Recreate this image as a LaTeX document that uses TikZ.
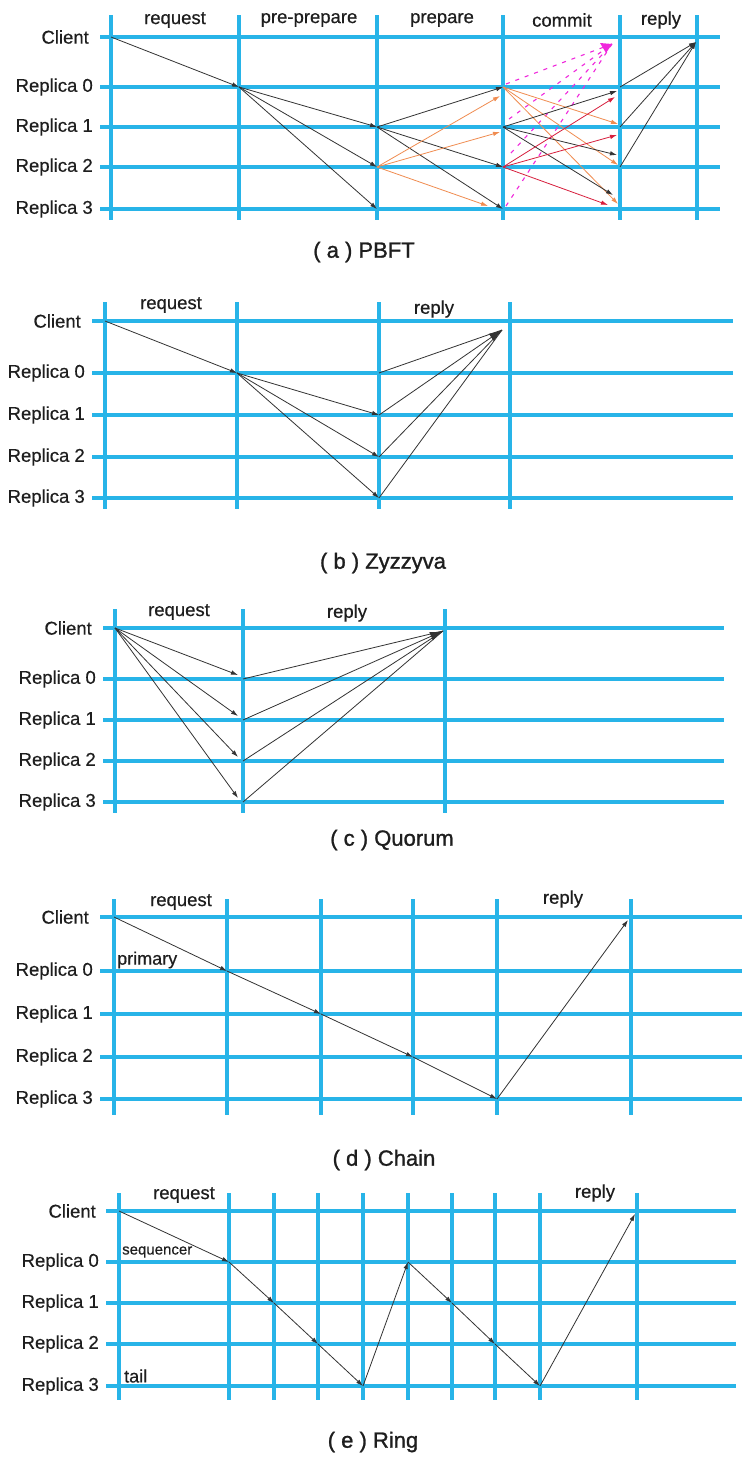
\documentclass[tikz,border=0pt]{standalone}
\usepackage{fontspec}
\setmainfont{Liberation Sans}
\newfontfamily\lblfont{Liberation Sans}[FakeBold=0.5]
\newfontfamily\capfont{Liberation Sans}[FakeBold=1.2]
\usetikzlibrary{arrows.meta,calc}
\definecolor{gridc}{RGB}{40,180,232}
\definecolor{txt}{RGB}{30,30,30}
\definecolor{orng}{RGB}{240,140,80}
\definecolor{redc}{RGB}{215,30,60}
\definecolor{mag}{RGB}{240,40,220}
\tikzset{
  gridline/.style={draw=gridc,line width=4pt},
  msg/.style={draw=black!80,line width=0.8pt,-{Latex[length=7pt,width=4.5pt]}},
  omsg/.style={msg,draw=orng,-{Latex[length=7pt,width=4.5pt,color=orng]}},
  rmsg/.style={msg,draw=redc,-{Latex[length=7pt,width=4.5pt,color=redc]}},
  dmsg/.style={draw=mag,line width=1.1pt,dash pattern=on 4pt off 6pt},
  plain/.style={draw=black!80,line width=0.8pt},
  bigtip/.style={plain,-{Latex[length=13pt,width=9pt]}},
  rowlab/.style={anchor=east,inner sep=0pt,text=txt,font=\lblfont\fontsize{18.5}{20}\selectfont},
  phlab/.style={inner sep=0pt,text=txt,font=\lblfont\fontsize{18.5}{20}\selectfont},
  sidelab/.style={anchor=west,inner sep=0pt,text=txt,font=\lblfont\fontsize{18}{20}\selectfont},
  caplab/.style={inner sep=0pt,text=txt,font=\capfont\fontsize{22}{24}\selectfont},
}
\begin{document}
\begin{tikzpicture}[x=1pt,y=-1pt]
\useasboundingbox[fill=white] (0,0) rectangle (742,1457);

% ---------------- (a) PBFT ----------------
\foreach \yy in {37,87,127,167,209} {\draw[gridline] (100,\yy) -- (720,\yy);}
\foreach \xx [count=\i] in {111,239,377,503,620,697} {%
  \draw[gridline] (\xx,15) -- (\xx,220);
  \foreach \yy [count=\r from 0] in {37,87,127,167,209} {\coordinate (a-\i-\r) at (\xx,\yy);}}
\node[rowlab] (a-lc) at (89,37) {Client};
\node[rowlab] (a-l0) at (93,87) {Replica 0};
\node[rowlab] (a-l1) at (93,127) {Replica 1};
\node[rowlab] (a-l2) at (93,167) {Replica 2};
\node[rowlab] (a-l3) at (93,209) {Replica 3};
\node[phlab] (a-p1) at (175,20) {request};
\node[phlab] (a-p2) at (309,20) {pre-prepare};
\node[phlab] (a-p3) at (442,20) {prepare};
\node[phlab] (a-p4) at (562,20) {commit};
\node[phlab] (a-p5) at (661,20) {reply};
\draw[msg] (a-1-0) -- (a-2-1);
\foreach \r in {2,3,4} {\draw[msg] (a-2-1) -- (a-3-\r);}
\foreach \r in {1,3,4} {\draw[msg] (a-3-2) -- (a-4-\r);}
\draw[omsg] (a-3-3) -- ($(a-4-1)+(-3,9)$);
\draw[omsg] (a-3-3) -- ($(a-4-2)+(-3,5)$);
\draw[omsg] (a-3-3) -- ($(a-4-4)+(-15,-3)$);
\coordinate (a-mt) at (612,44);
\draw[dmsg] ($(a-4-1)+(3,-3)$) -- (a-mt);
\draw[dmsg] ($(a-4-2)+(6,-8)$) -- (a-mt);
\draw[dmsg] ($(a-4-3)+(8,-14)$) -- (a-mt);
\draw[dmsg] ($(a-4-4)+(3,-3)$) -- (a-mt);
\fill[mag] (a-mt) -- ++(-12,-1) -- ++(6,10) -- cycle;
\draw[omsg] (a-4-1) -- ($(a-5-2)+(-2,-3)$);
\draw[omsg] (a-4-1) -- ($(a-5-3)+(-2,-2)$);
\draw[omsg] (a-4-1) -- ($(a-5-4)+(-2,-5)$);
\draw[msg] (a-4-2) -- ($(a-5-1)+(-3,4)$);
\draw[msg] (a-4-2) -- ($(a-5-3)+(-3,-12)$);
\draw[msg] (a-4-2) -- ($(a-5-4)+(-7,-14)$);
\draw[rmsg] (a-4-3) -- ($(a-5-1)+(-5,10)$);
\draw[rmsg] (a-4-3) -- ($(a-5-2)+(-3,8)$);
\draw[rmsg] (a-4-3) -- ($(a-5-4)+(-12,-4)$);
\coordinate (a-rt) at (696,42);
\foreach \r in {1,2,3} {\draw[msg] (a-5-\r) -- (a-rt);}
\node[caplab] (a-cap) at (364,252) {( a ) PBFT};

% ---------------- (b) Zyzzyva ----------------
\foreach \yy in {321,373,415,457,498} {\draw[gridline] (92,\yy) -- (733,\yy);}
\foreach \xx [count=\i] in {105,237,379,510} {%
  \draw[gridline] (\xx,302) -- (\xx,509);
  \foreach \yy [count=\r from 0] in {321,373,415,457,498} {\coordinate (b-\i-\r) at (\xx,\yy);}}
\node[rowlab] (b-lc) at (81,321) {Client};
\node[rowlab] (b-l0) at (85,373) {Replica 0};
\node[rowlab] (b-l1) at (85,415) {Replica 1};
\node[rowlab] (b-l2) at (85,457) {Replica 2};
\node[rowlab] (b-l3) at (85,498) {Replica 3};
\node[phlab] (b-p1) at (171,305) {request};
\node[phlab] (b-p2) at (434,309) {reply};
\draw[msg] (b-1-0) -- (b-2-1);
\foreach \r in {2,3,4} {\draw[msg] (b-2-1) -- (b-3-\r);}
\coordinate (b-rt) at (502,330);
\foreach \r in {1,3,4} {\draw[plain] (b-3-\r) -- (b-rt);}
\draw[bigtip] (b-3-2) -- (b-rt);
\node[caplab] (b-cap) at (383,563) {( b ) Zyzzyva};

% ---------------- (c) Quorum ----------------
\foreach \yy in {628,679,720,761,802} {\draw[gridline] (103,\yy) -- (724,\yy);}
\foreach \xx [count=\i] in {115,243,445} {%
  \draw[gridline] (\xx,609) -- (\xx,813);
  \foreach \yy [count=\r from 0] in {628,679,720,761,802} {\coordinate (c-\i-\r) at (\xx,\yy);}}
\node[rowlab] (c-lc) at (92,628) {Client};
\node[rowlab] (c-l0) at (96,679) {Replica 0};
\node[rowlab] (c-l1) at (96,720) {Replica 1};
\node[rowlab] (c-l2) at (96,761) {Replica 2};
\node[rowlab] (c-l3) at (96,802) {Replica 3};
\node[phlab] (c-p1) at (179,612) {request};
\node[phlab] (c-p2) at (347,613) {reply};
\foreach \r in {1,2,3,4} {\draw[msg] (c-1-0) -- ($(c-2-\r)+(-5,-4)$);}
\coordinate (c-rt) at (443,631);
\foreach \r in {1,3,4} {\draw[plain] (c-2-\r) -- (c-rt);}
\draw[bigtip] (c-2-2) -- (c-rt);
\node[caplab] (c-cap) at (392,840) {( c ) Quorum};

% ---------------- (d) Chain ----------------
\foreach \yy in {917,971,1014,1057,1099} {\draw[gridline] (100,\yy) -- (742,\yy);}
\foreach \xx [count=\i] in {114,227,321,413,497,631} {%
  \draw[gridline] (\xx,899) -- (\xx,1115);
  \foreach \yy [count=\r from 0] in {917,971,1014,1057,1099} {\coordinate (d-\i-\r) at (\xx,\yy);}}
\node[rowlab] (d-lc) at (89,917) {Client};
\node[rowlab] (d-l0) at (93,971) {Replica 0};
\node[rowlab] (d-l1) at (93,1014) {Replica 1};
\node[rowlab] (d-l2) at (93,1057) {Replica 2};
\node[rowlab] (d-l3) at (93,1099) {Replica 3};
\node[phlab] (d-p1) at (181,902) {request};
\node[phlab] (d-p2) at (563,899) {reply};
\node[sidelab] (d-prim) at (117,960) {primary};
\draw[msg] (d-1-0) -- (d-2-1);
\draw[msg] (d-2-1) -- (d-3-2);
\draw[msg] (d-3-2) -- (d-4-3);
\draw[msg] (d-4-3) -- (d-5-4);
\draw[msg] (d-5-4) -- ($(d-6-0)+(-3,3)$);
\node[caplab] (d-cap) at (384,1160) {( d ) Chain};

% ---------------- (e) Ring ----------------
\foreach \yy in {1211,1262,1303,1344,1386} {\draw[gridline] (106,\yy) -- (736,\yy);}
\foreach \xx [count=\i] in {119,229,274,318,363,408,452,495,540,637} {%
  \draw[gridline] (\xx,1193) -- (\xx,1400);
  \foreach \yy [count=\r from 0] in {1211,1262,1303,1344,1386} {\coordinate (e-\i-\r) at (\xx,\yy);}}
\node[rowlab] (e-lc) at (96,1211) {Client};
\node[rowlab] (e-l0) at (99,1262) {Replica 0};
\node[rowlab] (e-l1) at (99,1303) {Replica 1};
\node[rowlab] (e-l2) at (99,1344) {Replica 2};
\node[rowlab] (e-l3) at (99,1386) {Replica 3};
\node[phlab] (e-p1) at (184,1195) {request};
\node[phlab] (e-p2) at (595,1193) {reply};
\node[sidelab,font=\lblfont\fontsize{15}{17}\selectfont] (e-seq) at (122,1252) {sequencer};
\node[sidelab] (e-tail) at (124,1376) {tail};
\draw[msg] (e-1-0) -- (e-2-1);
\draw[msg] (e-2-1) -- (e-3-2);
\draw[msg] (e-3-2) -- (e-4-3);
\draw[msg] (e-4-3) -- (e-5-4);
\draw[msg] (e-5-4) -- (e-6-1);
\draw[msg] (e-6-1) -- (e-7-2);
\draw[msg] (e-7-2) -- (e-8-3);
\draw[msg] (e-8-3) -- (e-9-4);
\draw[msg] (e-9-4) -- ($(e-10-0)+(-2,3)$);
\node[caplab] (e-cap) at (373,1442) {( e ) Ring};
\end{tikzpicture}
\end{document}
